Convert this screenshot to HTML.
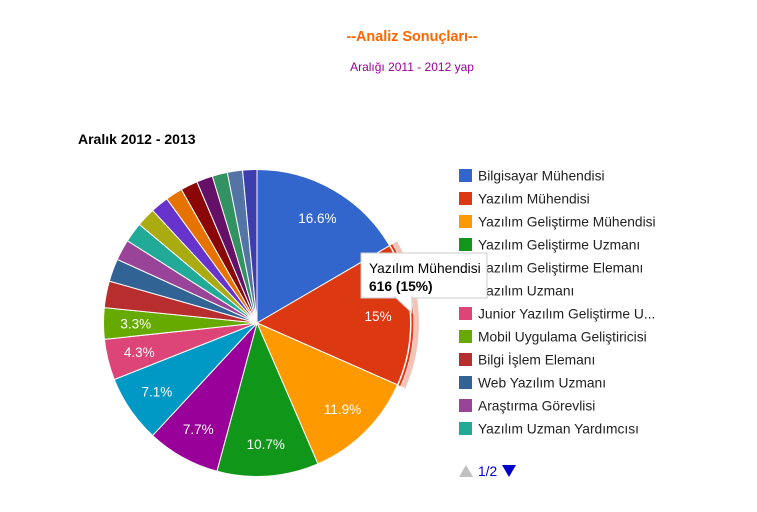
<!DOCTYPE html>
<html><head><meta charset="utf-8"><style>
body{margin:0;background:#fff;width:757px;height:507px;overflow:hidden;font-family:"Liberation Sans",Arial,sans-serif}
</style></head><body>
<svg id="s" width="757" height="507" xmlns="http://www.w3.org/2000/svg" font-family="Liberation Sans, Arial, sans-serif">
<text x="412" y="41" text-anchor="middle" font-size="14.4" font-weight="bold" fill="#ff6600">--Analiz Sonuçları--</text>
<text x="412" y="71" text-anchor="middle" font-size="12" fill="#990099">Aralığı 2011 - 2012 yap</text>
<text x="78" y="144" font-size="14" font-weight="bold" fill="#000">Aralık 2012 - 2013</text>
<g id="pie"></g>
<g id="leg"></g>
<polygon points="459,477 466,465 473,477" fill="#c0c0c0"/>
<text x="478" y="476" font-size="13.8" fill="#0000cc">1/2</text>
<polygon points="502,465 516,465 509,477" fill="#0000cc"/>
<g>
<rect x="361" y="253" width="126" height="45" fill="#fff" stroke="#ccc" stroke-width="1"/>
<polygon points="395,297 412,297 412,313" fill="#fff" stroke="#ccc"/>
<rect x="396" y="293" width="15" height="5" fill="#fff"/>
<text x="369" y="273" font-size="13.8" fill="#000">Yazılım Mühendisi</text>
<text x="369" y="291" font-size="13.8" font-weight="bold" fill="#000">616 (15%)</text>
</g>
</svg>
<script>
var v=[16.6,15,11.9,10.7,7.7,7.1,4.3,3.3,2.8,2.4,2.2,2.1,2.0,1.9,1.8,1.8,1.7,1.6,1.6,1.5];
var c=["#3366cc","#dc3912","#ff9900","#109618","#990099","#0099c6","#dd4477","#66aa00","#b82e2e","#316395","#994499","#22aa99","#aaaa11","#6633cc","#e67300","#8b0707","#651067","#329262","#5574a6","#3b3eac"];
var cx=257,cy=323,r=153.5,a=0,g=document.getElementById('pie'),h='';
function p(ang,rr){return [cx+rr*Math.sin(ang),cy-rr*Math.cos(ang)];}
var tot=v.reduce((x,y)=>x+y,0),ring='';
for(var i=0;i<v.length;i++){
 var a0=a,a1=a+v[i]/tot*2*Math.PI;a=a1;
 var s=p(a0,r),e=p(a1,r),lg=(a1-a0)>Math.PI?1:0;
 h+='<path d="M'+cx+','+cy+'L'+s[0]+','+s[1]+'A'+r+','+r+' 0 '+lg+' 1 '+e[0]+','+e[1]+'Z" fill="'+c[i]+'" stroke="#fff" stroke-width="1"/>';
 if(i==1){
  var r1=157,r2=162,q1=p(a0,r1),q2=p(a1,r1),q3=p(a1,r2),q4=p(a0,r2);
  ring='<path d="M'+q1+'A'+r1+','+r1+' 0 0 1 '+q2+'L'+q3+'A'+r2+','+r2+' 0 0 0 '+q4+'Z" fill="#f4c2b6"/>';
  var w1=p(a0,155.5),w2=p(a1,155.5);
  ring+='<path d="M'+w1+'A155.5,155.5 0 0 1 '+w2+'" fill="none" stroke="#dc3912" stroke-width="2"/>';
 }
 if(v[i]>3){var m=p((a0+a1)/2,r*0.79);h+='<text x="'+m[0]+'" y="'+(m[1]+5)+'" text-anchor="middle" font-size="13.5" fill="#fff">'+v[i]+'%</text>';}
}
g.innerHTML=ring+h;
var names=["Bilgisayar Mühendisi","Yazılım Mühendisi","Yazılım Geliştirme Mühendisi","Yazılım Geliştirme Uzmanı","Yazılım Geliştirme Elemanı","Yazılım Uzmanı","Junior Yazılım Geliştirme U...","Mobil Uygulama Geliştiricisi","Bilgi İşlem Elemanı","Web Yazılım Uzmanı","Araştırma Görevlisi","Yazılım Uzman Yardımcısı"];
var L='';
for(var i=0;i<names.length;i++){var y=169+i*23;
 L+='<rect x="459" y="'+y+'" width="13" height="13" fill="'+c[i]+'"/><text x="478" y="'+(y+11.5)+'" font-size="13.8" fill="#222">'+names[i]+'</text>';}
document.getElementById('leg').innerHTML=L;
</script>
</body></html>
